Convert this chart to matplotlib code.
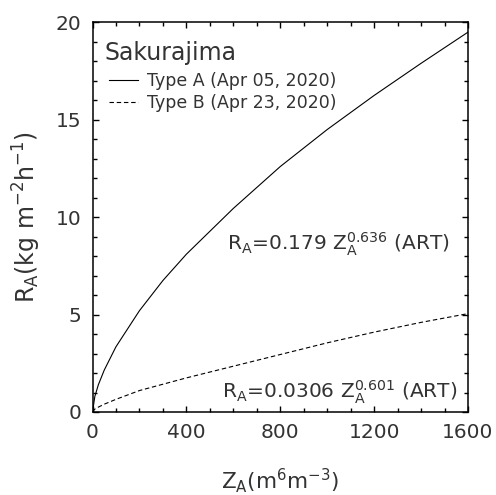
import matplotlib
matplotlib.use("Agg")
import matplotlib.pyplot as plt
from matplotlib.ticker import MultipleLocator

# Data
z_a = [0, 10, 25, 50, 100, 200, 300, 400, 600, 800, 1000, 1200, 1400, 1600]
r_a = [0, 0.8, 1.4, 2.15, 3.35, 5.2, 6.75, 8.1, 10.45, 12.6, 14.5, 16.25, 17.9, 19.5]

z_b = [0, 10, 25, 50, 100, 200, 400, 600, 800, 1000, 1200, 1400, 1600]
r_b = [0, 0.15, 0.25, 0.4, 0.65, 1.1, 1.75, 2.35, 2.95, 3.55, 4.1, 4.6, 5.05]

label_a = "Type A (Apr 05, 2020)"
label_b = "Type B (Apr 23, 2020)"
legend_title = "Sakurajima"
eq_a = r"R$_\mathregular{A}$=0.179 Z$_\mathregular{A}^\mathregular{0.636}$ (ART)"
eq_b = r"R$_\mathregular{A}$=0.0306 Z$_\mathregular{A}^\mathregular{0.601}$ (ART)"
xlabel = r"Z$_\mathregular{A}$(m$^\mathregular{6}$m$^\mathregular{-3}$)"
ylabel = r"R$_\mathregular{A}$(kg m$^\mathregular{-2}$h$^\mathregular{-1}$)"

plt.rcParams['font.family'] = ['DejaVu Sans']
plt.rcParams['mathtext.default'] = 'regular'

fig = plt.figure(figsize=(4.96, 4.95), dpi=100)
ax = fig.add_axes([0.1865, 0.1677, 0.757, 0.787])

ax.plot(z_a, r_a, color='black', lw=0.8, label=label_a)
ax.plot(z_b, r_b, color='black', lw=0.8, linestyle=(0, (4, 2.5)), label=label_b)

ax.set_xlim(0, 1600)
ax.set_ylim(0, 20)
ax.xaxis.set_major_locator(MultipleLocator(400))
ax.xaxis.set_minor_locator(MultipleLocator(100))
ax.yaxis.set_major_locator(MultipleLocator(5))
ax.yaxis.set_minor_locator(MultipleLocator(1))
ax.tick_params(which='both', direction='in', top=True, right=True, width=1.0, color='black')
ax.tick_params(which='major', length=4.5, labelsize=14.5, labelcolor='#333333', pad=8)
ax.tick_params(which='minor', length=3)
for s in ax.spines.values():
    s.set_linewidth(1.1)

ax.set_xlabel(xlabel, fontsize=15.5, color='#333333', labelpad=17)
ax.set_ylabel(ylabel, fontsize=17, color='#333333', labelpad=9)

ax.text(0.033, 0.904, legend_title, transform=ax.transAxes, ha='left', va='baseline',
        fontsize=17, color='#333333')

leg = ax.legend(loc='upper left', bbox_to_anchor=(0.043, 0.872), frameon=False, fontsize=12.5,
                handlelength=1.7, handletextpad=0.5, borderaxespad=0.0, labelspacing=0.2,
                borderpad=0.0)
for t in leg.get_texts():
    t.set_color('#333333')

ax.text(1523, 8.6, eq_a, ha='right', va='center', fontsize=14.5, color='#333333')
ax.text(1553, 1.0, eq_b, ha='right', va='center', fontsize=14.5, color='#333333')

fig.savefig("out.png", dpi=100)
